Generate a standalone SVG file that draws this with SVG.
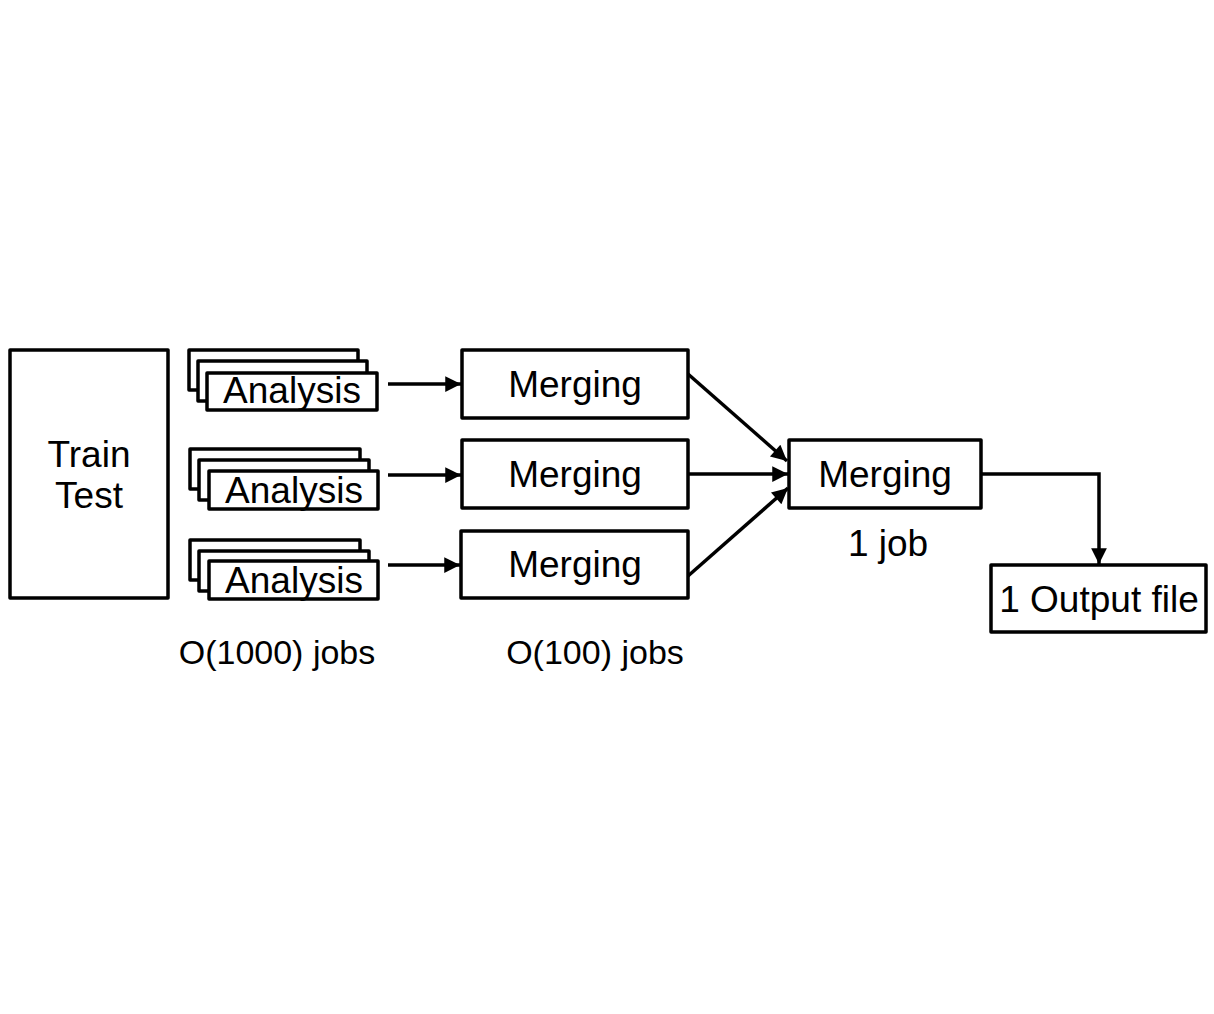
<svg xmlns="http://www.w3.org/2000/svg" width="1214" height="1014" viewBox="0 0 1214 1014">
<defs>
<style>
.box{fill:#fff;stroke:#000;stroke-width:3.5;stroke-linejoin:round}
.t{font-family:"Liberation Sans",Arial,sans-serif;font-size:37px;fill:#000;text-anchor:middle}
.s{font-family:"Liberation Sans",Arial,sans-serif;font-size:34px;fill:#000;text-anchor:middle}
.c{fill:none;stroke:#000;stroke-width:3.5}
</style>
<marker id="ah" viewBox="0 0 10 10" refX="10" refY="5" markerWidth="6.5" markerHeight="4.5" markerUnits="strokeWidth" orient="auto">
<path d="M0,0 L10,5 L0,10 z" fill="#000"/>
</marker>
</defs>
<rect width="1214" height="1014" fill="#fff"/>
<g id="train-test">
<rect class="box" x="10" y="350" width="158" height="248"/>
<text class="t" x="89" y="467">Train</text>
<text class="t" x="89" y="508">Test</text>
</g>
<g id="analysis-1">
<rect class="box" x="189" y="350" width="169" height="40"/>
<rect class="box" x="198" y="361" width="169" height="40"/>
<rect class="box" x="207" y="373" width="170" height="37"/>
<text class="t" x="292" y="403">Analysis</text>
</g>
<g id="analysis-2">
<rect class="box" x="190" y="449" width="170" height="40"/>
<rect class="box" x="199" y="460" width="170" height="40"/>
<rect class="box" x="209" y="471" width="169" height="38"/>
<text class="t" x="294" y="503">Analysis</text>
</g>
<g id="analysis-3">
<rect class="box" x="190" y="540" width="170" height="40"/>
<rect class="box" x="199" y="551" width="170" height="40"/>
<rect class="box" x="209" y="561" width="169" height="38"/>
<text class="t" x="294" y="593">Analysis</text>
</g>
<g id="merging-1">
<rect class="box" x="462" y="350" width="226" height="68"/>
<text class="t" x="575" y="397">Merging</text>
</g>
<g id="merging-2">
<rect class="box" x="462" y="440" width="226" height="68"/>
<text class="t" x="575" y="487">Merging</text>
</g>
<g id="merging-3">
<rect class="box" x="461" y="531" width="227" height="67"/>
<text class="t" x="575" y="577">Merging</text>
</g>
<g id="merging-final">
<rect class="box" x="789" y="440" width="192" height="68"/>
<text class="t" x="885" y="487">Merging</text>
</g>
<g id="output">
<rect class="box" x="991" y="565" width="215" height="67"/>
<text class="t" x="1099" y="612">1 Output file</text>
</g>
<g id="labels">
<text class="s" x="277" y="664">O(1000) jobs</text>
<text class="s" x="595" y="664">O(100) jobs</text>
<text class="t" x="888" y="556">1 job</text>
</g>
<g id="connectors">
<line class="c" x1="388" y1="384" x2="461" y2="384" marker-end="url(#ah)"/>
<line class="c" x1="388" y1="475" x2="461" y2="475" marker-end="url(#ah)"/>
<line class="c" x1="388" y1="565" x2="460" y2="565" marker-end="url(#ah)"/>
<line class="c" x1="688" y1="374" x2="787" y2="461" marker-end="url(#ah)"/>
<line class="c" x1="688" y1="474" x2="788" y2="474" marker-end="url(#ah)"/>
<line class="c" x1="688" y1="576" x2="788" y2="488" marker-end="url(#ah)"/>
<polyline class="c" points="981,474 1099,474 1099,564" marker-end="url(#ah)"/>
</g>
</svg>
